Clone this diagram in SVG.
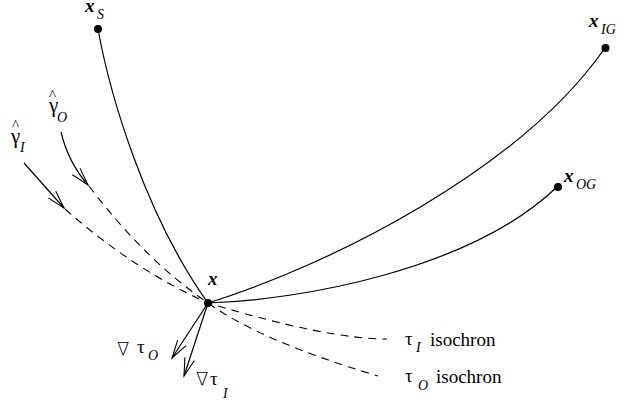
<svg xmlns="http://www.w3.org/2000/svg" width="631" height="402" viewBox="0 0 631 402">
<style>
.ln{fill:none;stroke:#000;stroke-width:1.2}
.da{fill:none;stroke:#000;stroke-width:1.1;stroke-dasharray:8,6}
.dot{fill:#000}
.bx{font-family:"Liberation Serif",serif;font-weight:bold;font-style:italic;font-size:19px}
.sub{font-family:"Liberation Serif",serif;font-style:italic;font-size:14px}
.gr{font-family:"Liberation Serif",serif;font-size:19px}
.gm{font-family:"Liberation Serif",serif;font-size:21px}
.hat{font-size:15px}
.nab{font-family:"DejaVu Sans",sans-serif;font-size:18px;font-weight:200}
.txt{font-family:"Liberation Serif",serif;font-size:19px}
</style>
<defs>
<marker id="v" markerUnits="userSpaceOnUse" markerWidth="24" markerHeight="14" refX="18" refY="6" orient="auto" overflow="visible">
<path d="M0,1 L18,6 L0,11" fill="none" stroke="#000" stroke-width="1.1"/>
</marker>
</defs>
<g id="connectors">
<path class="ln" d="M98,29 C110,95 145,215 208,303"/>
<path class="ln" d="M208,303 C330,265 520,170 605,48"/>
<path class="ln" d="M208,303 C300,300 470,270 557,187"/>
<path class="da" d="M89,186 Q145,260 208,303 Q261,341 378,376"/>
<path class="da" d="M65,209 Q134,270 208,303 Q327,339 387,339"/>
<path class="ln" d="M61,132 Q68,162 88,185" marker-end="url(#v)"/>
<path class="ln" d="M24,163 L64,208" marker-end="url(#v)"/>
<path class="ln" d="M208,303 L172,358" marker-end="url(#v)"/>
<path class="ln" d="M208,303 L184,376" marker-end="url(#v)"/>
</g>
<g id="node-xS">
<circle class="dot" cx="98" cy="29" r="4"/>
<text class="bx" x="85" y="12">x</text><text class="sub" x="97" y="19">S</text>
</g>
<g id="node-xIG">
<circle class="dot" cx="605.5" cy="48" r="4"/>
<text class="bx" x="589" y="27">x</text><text class="sub" x="601" y="34">IG</text>
</g>
<g id="node-xOG">
<circle class="dot" cx="558" cy="187" r="4"/>
<text class="bx" x="564" y="182">x</text><text class="sub" x="576" y="189">OG</text>
</g>
<g id="node-x">
<circle class="dot" cx="208" cy="303" r="4"/>
<text class="bx" x="208" y="285">x</text>
</g>
<g id="label-gammaO">
<text class="gm"><tspan class="hat" x="49" y="100">^</tspan><tspan x="49" y="112">γ</tspan></text><text class="sub" x="57" y="122">O</text>
</g>
<g id="label-gammaI">
<text class="gm"><tspan class="hat" x="12" y="130">^</tspan><tspan x="11" y="143">γ</tspan></text><text class="sub" x="20" y="152">I</text>
</g>
<g id="label-gradO">
<text class="nab" x="117" y="355">∇</text>
<text class="gr" x="137" y="353">τ</text><text class="sub" x="148" y="360">O</text>
</g>
<g id="label-gradI">
<text class="nab" x="196" y="385">∇</text>
<text class="gr" x="210" y="385">τ</text><text class="sub" x="223" y="398">I</text>
</g>
<g id="label-isoI">
<text class="gr" x="405" y="345">τ</text><text class="sub" x="416" y="352">I</text>
<text class="txt" x="430" y="346">isochron</text>
</g>
<g id="label-isoO">
<text class="gr" x="405" y="382">τ</text><text class="sub" x="418" y="390">O</text>
<text class="txt" x="436" y="383">isochron</text>
</g>
</svg>
